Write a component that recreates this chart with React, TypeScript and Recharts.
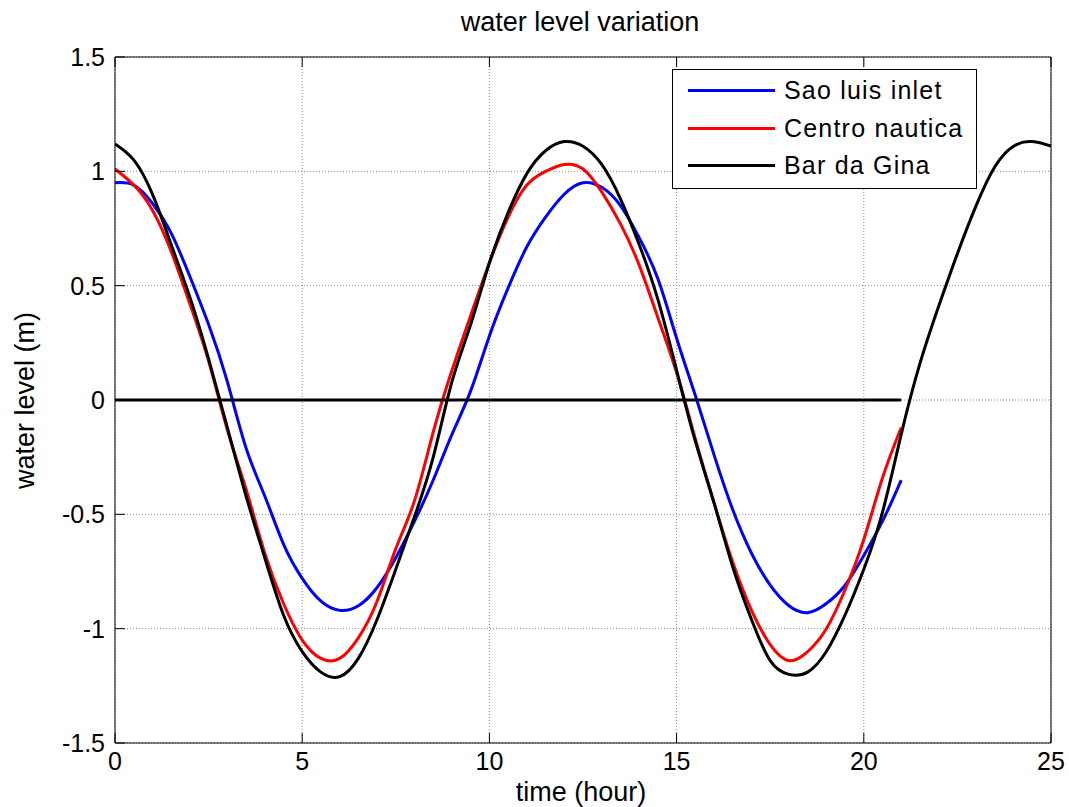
import React from 'react';
import { LineChart, Line, XAxis, YAxis, CartesianGrid } from 'recharts';

// --- data (hours, metres) ---
const timeHours = [
  0, 0.5, 1, 1.5, 2, 2.5, 3, 3.5, 4, 4.5, 5, 5.5, 6, 6.5, 7, 7.5, 8, 8.5, 9, 9.5,
  10, 10.5, 11, 11.5, 12, 12.5, 13, 13.5, 14, 14.5, 15, 15.5, 16, 16.5, 17, 17.5,
  18, 18.5, 19, 19.5, 20, 20.5, 21, 21.5, 22, 22.5, 23, 23.5, 24, 24.5, 25,
];

const saoLuisInlet = [
  0.95, 0.94, 0.86, 0.73, 0.54, 0.33, 0.08, -0.21, -0.42, -0.63, -0.78, -0.88, -0.92, -0.9,
  -0.82, -0.69, -0.53, -0.35, -0.15, 0.04, 0.28, 0.49, 0.67, 0.8, 0.9, 0.95, 0.93, 0.85,
  0.71, 0.53, 0.27, 0.02, -0.24, -0.48, -0.67, -0.81, -0.9, -0.93, -0.89, -0.81, -0.68,
  -0.53, -0.35,
];

const centroNautica = [
  1.01, 0.94, 0.83, 0.65, 0.42, 0.17, -0.13, -0.39, -0.67, -0.89, -1.05, -1.13, -1.13, -1.04,
  -0.88, -0.65, -0.44, -0.14, 0.13, 0.37, 0.6, 0.8, 0.94, 1.0, 1.03, 1.01, 0.91, 0.77,
  0.59, 0.36, 0.12, -0.17, -0.45, -0.71, -0.92, -1.07, -1.14, -1.1, -1.0, -0.83, -0.61,
  -0.34, -0.12,
];

const barDaGina = [
  1.12, 1.05, 0.9, 0.68, 0.45, 0.18, -0.12, -0.42, -0.69, -0.94, -1.1, -1.19, -1.21, -1.13,
  -0.96, -0.74, -0.51, -0.25, 0.08, 0.33, 0.6, 0.82, 0.99, 1.09, 1.13, 1.11, 1.03, 0.88,
  0.68, 0.44, 0.13, -0.18, -0.45, -0.73, -0.96, -1.14, -1.2, -1.19, -1.1, -0.94, -0.74,
  -0.49, -0.15, 0.16, 0.41, 0.64, 0.85, 1.02, 1.11, 1.13, 1.11,
];

const zeroLineTimes = [0, 21];
const zeroLineLevels = [0, 0];

const xTicks = [0, 5, 10, 15, 20, 25];
const yTicks = [-1.5, -1, -0.5, 0, 0.5, 1, 1.5];

const series = [
  { key: 'sao', name: 'Sao luis inlet', color: '#0000ff' },
  { key: 'centro', name: 'Centro nautica', color: '#ff0000' },
  { key: 'gina', name: 'Bar da Gina', color: '#000000' },
];

const chartData = timeHours.map((t, i) => ({
  t,
  sao: saoLuisInlet[i],
  centro: centroNautica[i],
  gina: barDaGina[i],
}));

const zeroData = zeroLineTimes.map((t, i) => ({ t, level: zeroLineLevels[i] }));

const FONT = '"Liberation Sans", Arial, Helvetica, sans-serif';
const TICK_LEN = 10;

// MATLAB style: tick marks point into the plot box
const LeftTick = ({ x, y, payload }: any) => (
  <g>
    <line x1={x + 10} x2={x + 10 + TICK_LEN} y1={y} y2={y} stroke="#000" />
    <text x={x} y={y} dy="0.355em" textAnchor="end" fill="#000" fontSize={25} fontFamily={FONT}>
      {payload.value}
    </text>
  </g>
);

const BottomTick = ({ x, y, payload }: any) => (
  <g>
    <line x1={x} x2={x} y1={y - 9} y2={y - 9 - TICK_LEN} stroke="#000" />
    <text x={x} y={y} dy="0.71em" textAnchor="middle" fill="#000" fontSize={25} fontFamily={FONT}>
      {payload.value}
    </text>
  </g>
);

const TopTick = ({ x, y }: any) => (
  <line x1={x} x2={x} y1={y} y2={y + TICK_LEN} stroke="#000" />
);

const RightTick = ({ x, y }: any) => (
  <line x1={x} x2={x - TICK_LEN} y1={y} y2={y} stroke="#000" />
);

const MatlabLegend = () => (
  <div
    style={{
      position: 'absolute',
      left: 672,
      top: 69,
      width: 305,
      height: 120,
      boxSizing: 'border-box',
      border: '1px solid #000',
      background: '#fff',
      paddingTop: 2,
      fontFamily: FONT,
      fontSize: 25,
      letterSpacing: 1.2,
      color: '#000',
    }}
  >
    {series.map((s) => (
      <div key={s.key} style={{ height: 37.5, display: 'flex', alignItems: 'center' }}>
        <div style={{ marginLeft: 15, width: 87, height: 3, background: s.color }} />
        <span style={{ marginLeft: 9, whiteSpace: 'nowrap' }}>{s.name}</span>
      </div>
    ))}
  </div>
);

const labelStyle: React.CSSProperties = {
  position: 'absolute',
  textAlign: 'center',
  fontFamily: FONT,
  fontSize: 27,
  lineHeight: '27px',
  color: '#000',
  whiteSpace: 'nowrap',
};

export default function App() {
  return (
    <div style={{ position: 'absolute', left: 0, top: 0, width: 1069, height: 807, background: '#fff' }}>
      <div style={{ ...labelStyle, left: 430, width: 300, top: 9 }}>water level variation</div>

      <LineChart
        width={1069}
        height={807}
        data={chartData}
        margin={{ top: 56, right: 17, bottom: 24, left: 55 }}
      >
        <CartesianGrid stroke="#8a8a8a" strokeDasharray="1 2" strokeWidth={1} />
        <XAxis
          dataKey="t"
          type="number"
          domain={[0, 25]}
          ticks={xTicks}
          allowDataOverflow
          height={40}
          stroke="#000"
          tick={(p: any) => <BottomTick {...p} />}
          tickLine={false}
          tickSize={0}
          tickMargin={9}
          interval={0}
        />
        <XAxis
          xAxisId="top"
          orientation="top"
          dataKey="t"
          type="number"
          domain={[0, 25]}
          ticks={xTicks}
          height={1}
          stroke="#000"
          tick={(p: any) => <TopTick {...p} />}
          tickLine={false}
          tickSize={0}
          tickMargin={0}
          interval={0}
        />
        <YAxis
          type="number"
          domain={[-1.5, 1.5]}
          ticks={yTicks}
          allowDataOverflow
          width={60}
          stroke="#000"
          tick={(p: any) => <LeftTick {...p} />}
          tickLine={false}
          tickSize={0}
          tickMargin={10}
          interval={0}
        />
        <YAxis
          yAxisId="right"
          orientation="right"
          type="number"
          domain={[-1.5, 1.5]}
          ticks={yTicks}
          width={1}
          stroke="#000"
          tick={(p: any) => <RightTick {...p} />}
          tickLine={false}
          tickSize={0}
          tickMargin={0}
          interval={0}
        />
        {series.map((s) => (
          <Line
            key={s.key}
            type="natural"
            dataKey={s.key}
            name={s.name}
            stroke={s.color}
            strokeWidth={3}
            strokeLinejoin="round"
            dot={false}
            activeDot={false}
            isAnimationActive={false}
          />
        ))}
        <Line
          data={zeroData}
          type="linear"
          dataKey="level"
          stroke="#000"
          strokeWidth={3}
          dot={false}
          activeDot={false}
          legendType="none"
          isAnimationActive={false}
        />
      </LineChart>

      <MatlabLegend />

      <div style={{ ...labelStyle, left: 431, width: 300, top: 779 }}>time (hour)</div>

      <div
        style={{
          ...labelStyle,
          left: 25 - 150,
          top: 400 - 13.5,
          width: 300,
          height: 27,
          transform: 'rotate(-90deg)',
        }}
      >
        water level (m)
      </div>
    </div>
  );
}
